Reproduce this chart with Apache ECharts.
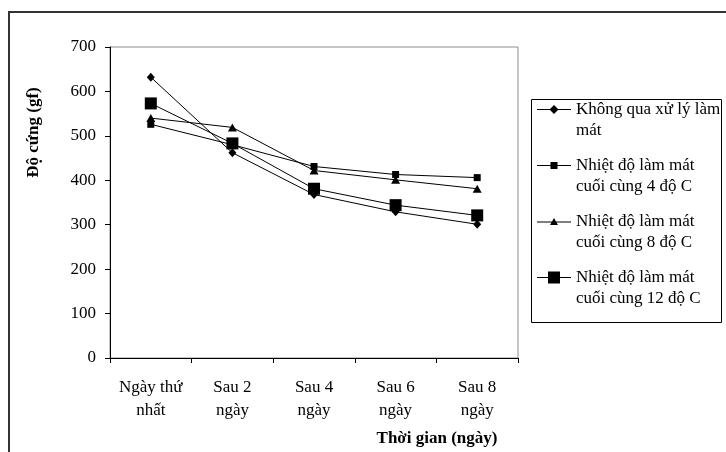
<!DOCTYPE html>
<html>
<head>
<meta charset="utf-8">
<script src="https://cdn.jsdelivr.net/npm/echarts@6/dist/echarts.min.js"></script>
<style>
  html, body { margin: 0; padding: 0; background: #fff; }
  #chart { width: 726px; height: 452px; }
</style>
</head>
<body>
<div id="chart"></div>
<script>
// Days after harvest
const categories = ['Ngày thứ\nnhất', 'Sau 2\nngày', 'Sau 4\nngày', 'Sau 6\nngày', 'Sau 8\nngày'];

// Hardness (gf) per treatment
const khongXuLy = [632, 462, 368, 329, 301];
const lamMat4 = [526, 480, 431, 413, 406];
const lamMat8 = [540, 519, 422, 401, 381];
const lamMat12 = [573, 483, 381, 344, 321];

const seriesNames = [
  'Không qua xử lý làm\nmát',
  'Nhiệt độ làm mát\ncuối cùng 4 độ C',
  'Nhiệt độ làm mát\ncuối cùng 8 độ C',
  'Nhiệt độ làm mát\ncuối cùng 12 độ C'
];

const yTicks = { min: 0, max: 700, interval: 100 };

const FONT = '"Liberation Serif", "Times New Roman", serif';

// Legend glyphs: a short line with the series marker in the middle
const legendIcons = [
  'path://M0,5.5H13L17,1.5L21,5.5H34V6.5H21L17,10.5L13,6.5H0Z',
  'path://M0,5.5H13.5V2.5H20.5V5.5H34V6.5H20.5V9.5H13.5V6.5H0Z',
  'path://M0,5.5H15L17,2L19,5.5H34V6.5H19.57L21,9H13L14.43,6.5H0Z',
  'path://M0,5.5H11V0H23V5.5H34V6.5H23V12H11V6.5H0Z'
];

const markers = [
  { symbol: 'diamond', size: [8, 9] },
  { symbol: 'rect', size: 7 },
  { symbol: 'triangle', size: [9, 8] },
  { symbol: 'rect', size: 12 }
];

const values = [khongXuLy, lamMat4, lamMat8, lamMat12];

const chart = echarts.init(document.getElementById('chart'), null, { renderer: 'canvas' });

chart.setOption({
  backgroundColor: '#fff',
  animation: false,
  textStyle: { fontFamily: FONT, color: '#000' },
  grid: {
    left: 110, top: 47, right: 208, bottom: 93,
    show: true, borderColor: '#8c8c8c', borderWidth: 1
  },
  graphic: [
    {
      type: 'rect', silent: true, z: -1,
      shape: { x: 9, y: 12, width: 760, height: 480 },
      style: { fill: null, stroke: '#333', lineWidth: 2 }
    },
    {
      type: 'rect', silent: true,
      shape: { x: 531.5, y: 99.5, width: 190, height: 223 },
      style: { fill: null, stroke: '#000', lineWidth: 1 }
    }
  ],
  legend: {
    orient: 'vertical',
    left: 537,
    top: 78,
    padding: 0,
    itemGap: -7,
    itemWidth: 34,
    itemHeight: 12,
    symbolKeepAspect: true,
    selectedMode: false,
    // a leading blank line keeps the first text line level with the glyph
    formatter: name => '\n' + name,
    textStyle: {
      fontFamily: FONT, fontSize: 17, color: '#000', lineHeight: 21
    },
    data: seriesNames.map((n, i) => ({ name: n, icon: legendIcons[i] }))
  },
  xAxis: {
    type: 'category',
    data: categories,
    boundaryGap: true,
    name: 'Thời gian (ngày)',
    nameLocation: 'middle',
    nameGap: 72,
    nameTextStyle: {
      fontFamily: FONT, fontSize: 17, fontWeight: 'bold', color: '#000',
      padding: [0, 0, 0, 246]
    },
    axisLine: { lineStyle: { color: '#000', width: 1 } },
    axisTick: { show: true, interval: 0, length: 5, lineStyle: { color: '#000' } },
    axisLabel: {
      interval: 0,
      fontFamily: FONT, fontSize: 17, color: '#000',
      lineHeight: 23, margin: 18
    },
    splitLine: { show: false }
  },
  yAxis: {
    type: 'value',
    min: yTicks.min, max: yTicks.max, interval: yTicks.interval,
    name: 'Độ cứng (gf)',
    nameLocation: 'middle',
    nameRotate: 90,
    nameGap: 68,
    nameTextStyle: {
      fontFamily: FONT, fontSize: 17, fontWeight: 'bold', color: '#000',
      padding: [0, 0, 0, 140]
    },
    axisLine: { show: true, lineStyle: { color: '#000', width: 1 } },
    axisTick: { show: true, length: 5, lineStyle: { color: '#000' } },
    axisLabel: { fontFamily: FONT, fontSize: 17, color: '#000', margin: 14 },
    splitLine: { show: false }
  },
  series: values.map((v, i) => ({
    name: seriesNames[i],
    type: 'line',
    data: v,
    symbol: markers[i].symbol,
    symbolSize: markers[i].size,
    showAllSymbol: true,
    color: '#000',
    lineStyle: { color: '#000', width: 1 },
    itemStyle: { color: '#000' },
    z: 2 + i
  }))
});
</script>
</body>
</html>
